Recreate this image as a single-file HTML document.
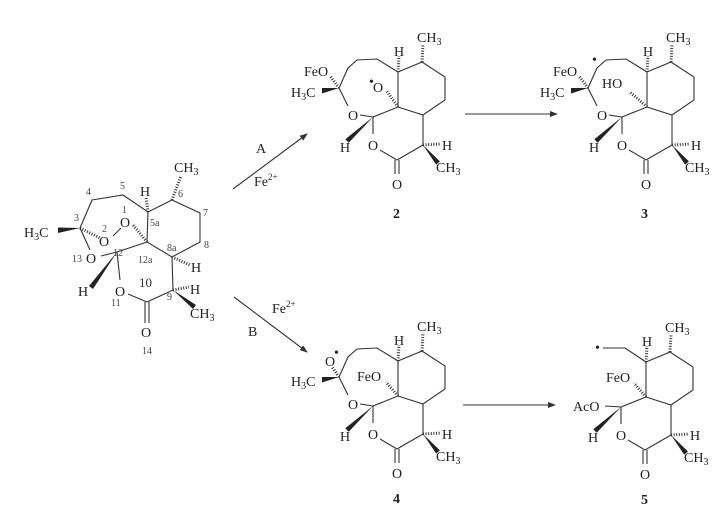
<!DOCTYPE html>
<html><head><meta charset="utf-8"><style>
html,body{margin:0;padding:0;background:#fff;}
svg{display:block}
text{font-family:"Liberation Serif",serif;fill:#222;}
.a{font-size:14px}
.n{font-size:10px;fill:#444}
.b{font-size:14px;font-weight:bold}
line,polyline{stroke:#333;stroke-width:1.1;fill:none}
.h{stroke-width:3;stroke-dasharray:1 1.6}
polygon{fill:#222}
</style></head><body>
<svg width="722" height="512" viewBox="0 0 722 512" xmlns="http://www.w3.org/2000/svg">
<defs>
<marker id="ar" markerWidth="8" markerHeight="6" refX="7" refY="3" orient="auto" markerUnits="userSpaceOnUse"><path d="M0,0 L8,3 L0,6 z" fill="#333"/></marker>
</defs>

<!-- Compound 1 -->
<g>
<polyline points="80,228 92,200 123,195 148,212 172,200 200,213 200,242 172,257 147,242 148,212"/>
<line x1="80" y1="228" x2="90" y2="250"/>
<line x1="101" y1="256" x2="117" y2="252"/>
<line x1="117" y1="252" x2="147" y2="242"/>
<line x1="117" y1="252" x2="120" y2="280"/>
<line x1="128" y1="294" x2="147" y2="302"/>
<line x1="145" y1="302" x2="145" y2="323"/>
<line x1="149" y1="302" x2="149" y2="323"/>
<line x1="147" y1="302" x2="173" y2="290"/>
<line x1="173" y1="290" x2="172" y2="257"/>
<line x1="113" y1="236" x2="121" y2="228"/>
<line class="h" x1="80" y1="228" x2="100" y2="238"/>
<line class="h" x1="147" y1="242" x2="133" y2="225"/>
<line class="h" x1="148" y1="212" x2="146" y2="197"/>
<line class="h" x1="172" y1="200" x2="181" y2="176"/>
<line class="h" x1="172" y1="257" x2="190" y2="265"/>
<line class="h" x1="173" y1="290" x2="189" y2="287"/>
<polygon points="80,228 58,227.5 58,233"/>
<polygon points="117,252 89,286 93,289"/>
<polygon points="173,290 196,305 193,309"/>
<text class="a" x="24" y="237">H<tspan font-size="10" dy="3">3</tspan><tspan dy="-3">C</tspan></text>
<text class="a" x="120" y="227">O</text>
<text class="a" x="99" y="246">O</text>
<text class="a" x="86" y="263">O</text>
<text class="a" x="115" y="296">O</text>
<text class="a" x="141" y="337">O</text>
<text class="a" x="140" y="196">H</text>
<text class="a" x="174" y="172">CH<tspan font-size="10" dy="3">3</tspan></text>
<text class="a" x="191" y="272">H</text>
<text class="a" x="190" y="294">H</text>
<text class="a" x="190" y="318">CH<tspan font-size="10" dy="3">3</tspan></text>
<text class="a" x="78" y="296">H</text>
<text class="n" x="86" y="195">4</text>
<text class="n" x="120" y="189">5</text>
<text class="n" x="74" y="221">3</text>
<text class="n" x="102" y="232">2</text>
<text class="n" x="122" y="213">1</text>
<text class="n" x="150" y="226">5a</text>
<text class="n" x="178" y="197">6</text>
<text class="n" x="203" y="216">7</text>
<text class="n" x="204" y="248">8</text>
<text class="n" x="167" y="251">8a</text>
<text class="n" x="138" y="263">12a</text>
<text class="n" x="113" y="256">12</text>
<text class="n" x="72" y="262">13</text>
<text style="font-size:13px;fill:#333" x="139" y="287">10</text>
<text class="n" x="111" y="306">11</text>
<text class="n" x="167" y="300">9</text>
<text class="n" x="142" y="354">14</text>
</g>

<!-- Arrows -->
<line x1="233" y1="189" x2="307" y2="134" marker-end="url(#ar)"/>
<line x1="234" y1="297" x2="307" y2="352" marker-end="url(#ar)"/>
<line x1="465" y1="114" x2="557" y2="114" marker-end="url(#ar)"/>
<line x1="463" y1="405" x2="555" y2="405" marker-end="url(#ar)"/>
<text class="a" x="256" y="153">A</text>
<text class="a" x="254" y="186">Fe<tspan font-size="9" dy="-6">2+</tspan></text>
<text class="a" x="248" y="336">B</text>
<text class="a" x="272" y="313">Fe<tspan font-size="9" dy="-6">2+</tspan></text>

<defs>
<g id="core">
<polyline points="398,72 422,62 445,77 445,100 423,115 398,107 398,72"/>
<line x1="398" y1="107" x2="373" y2="117"/>
<line x1="373" y1="117" x2="373" y2="134"/>
<line x1="380" y1="150" x2="397" y2="160"/>
<line x1="395" y1="160" x2="395" y2="174"/>
<line x1="399" y1="160" x2="399" y2="174"/>
<line x1="397" y1="160" x2="423" y2="145"/>
<line x1="423" y1="145" x2="423" y2="115"/>
<line class="h" x1="398" y1="72" x2="399" y2="56"/>
<line class="h" x1="422" y1="62" x2="423" y2="44"/>
<line class="h" x1="423" y1="145" x2="441" y2="144"/>
<polygon points="373,117 345.3,139.2 348.7,142.8"/>
<polygon points="423,145 436.1,164.6 439.9,161.4"/>
<text class="a" x="368" y="150">O</text>
<text class="a" x="392" y="189">O</text>
<text class="a" x="394" y="56">H</text>
<text class="a" x="340" y="152">H</text>
<text class="a" x="442" y="150">H</text>
<text class="a" x="417" y="42">CH<tspan font-size="10" dy="3">3</tspan></text>
<text class="a" x="436" y="172">CH<tspan font-size="10" dy="3">3</tspan></text>
</g>
<g id="sev">
<polyline points="339,88 348,68 357,60 377,59 398,72"/>
<line x1="339" y1="88" x2="348" y2="106"/>
<line x1="360" y1="115" x2="373" y2="117"/>
<polygon points="339,88 322,88 322,93.5"/>
<text class="a" x="348" y="120">O</text>
<text class="a" x="291" y="97">H<tspan font-size="10" dy="3">3</tspan><tspan dy="-3">C</tspan></text>
</g>
</defs>

<!-- Compound 2 -->
<use href="#core"/>
<use href="#sev"/>
<line class="h" x1="339" y1="88" x2="330" y2="76"/>
<line class="h" x1="398" y1="107" x2="386" y2="90"/>
<text class="a" x="304" y="76">FeO</text>
<text class="a" x="373" y="92">O</text>
<text style="font-size:14px" x="369" y="86">•</text>
<text class="b" x="393" y="218">2</text>

<!-- Compound 3 -->
<g transform="translate(249,0)">
<use href="#core"/>
<use href="#sev"/>
<line class="h" x1="339" y1="88" x2="330" y2="76"/>
<line class="h" x1="398" y1="107" x2="381" y2="92"/>
<text class="a" x="304" y="76">FeO</text>
<text class="a" x="353" y="88">HO</text>
<text style="font-size:14px" x="343" y="64">•</text>
<text class="b" x="392" y="218">3</text>
</g>

<!-- Compound 4 -->
<g transform="translate(0,289)">
<use href="#core"/>
<use href="#sev"/>
<line class="h" x1="339" y1="88" x2="332" y2="78"/>
<line class="h" x1="398" y1="107" x2="386" y2="93"/>
<text class="a" x="325" y="77">O</text>
<text style="font-size:14px" x="334" y="68">•</text>
<text class="a" x="357" y="92">FeO</text>
<text class="b" x="393" y="214">4</text>
</g>

<!-- Compound 5 -->
<g transform="translate(248,290)">
<use href="#core"/>
<polyline points="398,72 377,58 355,58"/>
<line x1="373" y1="117" x2="357" y2="116"/>
<line class="h" x1="398" y1="107" x2="386" y2="93"/>
<text style="font-size:14px" x="347" y="62">•</text>
<text class="a" x="358" y="92">FeO</text>
<text class="a" x="325" y="121">AcO</text>
<text class="b" x="393" y="214">5</text>
</g>
</svg>
</body></html>
